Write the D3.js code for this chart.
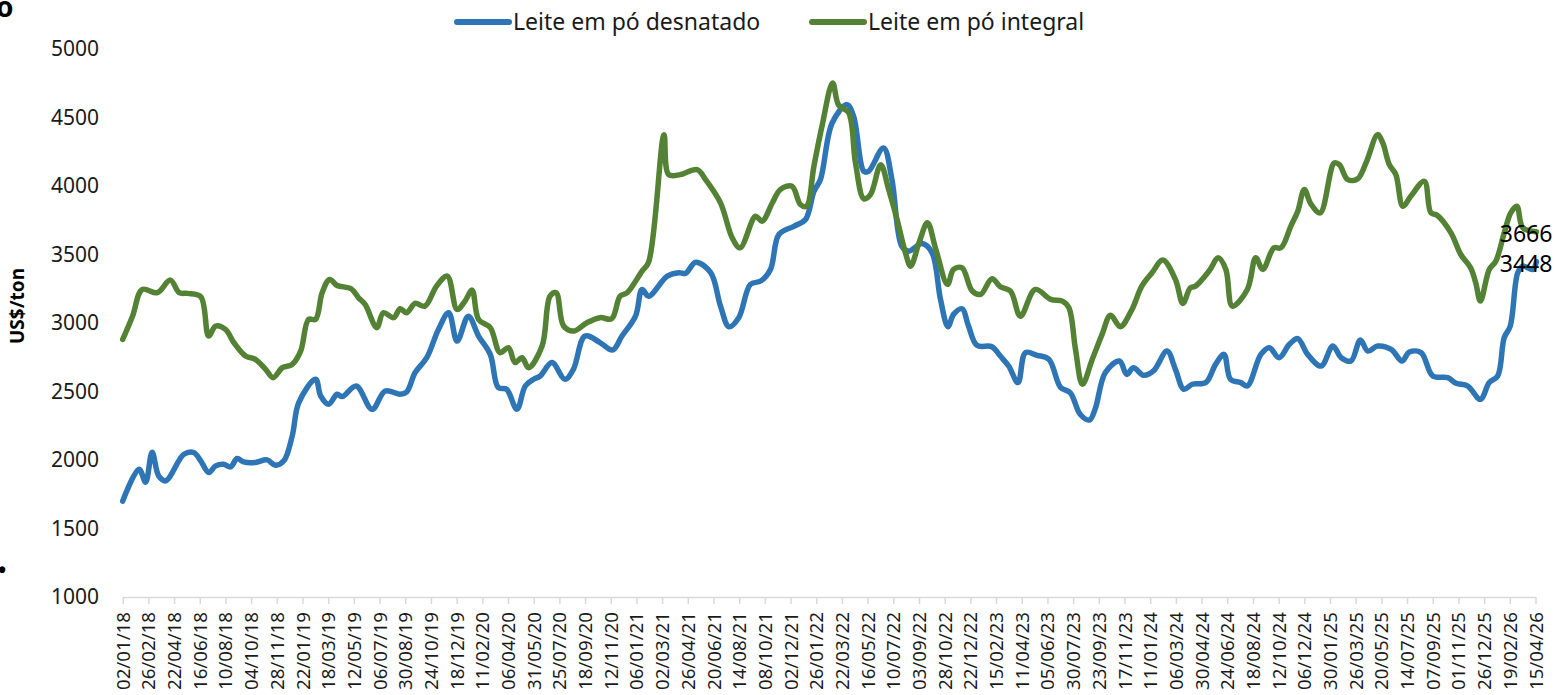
<!DOCTYPE html>
<html>
<head>
<meta charset="utf-8">
<script src="https://cdn.jsdelivr.net/npm/d3@7"></script>
<style>
  body { margin: 0; background: #fff; }
  svg { display: block; font-family: "Noto Sans", "Open Sans", sans-serif; }
  .axis-x .domain, .axis-x line { stroke: #d9d9d9; stroke-width: 1.5; }
</style>
</head>
<body>
<div id="chart"></div>
<script>
// ---- data ----
var seriesNames = ["Leite em pó desnatado", "Leite em pó integral"];
var seriesColors = ["#2e75b6", "#548235"];

var tickLabels = ["02/01/18","26/02/18","22/04/18","16/06/18","10/08/18","04/10/18","28/11/18",
  "22/01/19","18/03/19","12/05/19","06/07/19","30/08/19","24/10/19","18/12/19",
  "11/02/20","06/04/20","31/05/20","25/07/20","18/09/20","12/11/20",
  "06/01/21","02/03/21","26/04/21","20/06/21","14/08/21","08/10/21","02/12/21",
  "26/01/22","22/03/22","16/05/22","10/07/22","03/09/22","28/10/22","22/12/22",
  "15/02/23","11/04/23","05/06/23","30/07/23","23/09/23","17/11/23",
  "11/01/24","06/03/24","30/04/24","24/06/24","18/08/24","12/10/24","06/12/24",
  "30/01/25","26/03/25","20/05/25","14/07/25","07/09/25","01/11/25","26/12/25",
  "19/02/26","15/04/26"];

var yTicks = [1000,1500,2000,2500,3000,3500,4000,4500,5000];

var desnatadoDates = ["02/01/18","06/02/18","20/02/18","06/03/18","20/03/18","04/04/18","13/05/18","03/06/18",
  "18/06/18","05/07/18","20/07/18","06/08/18","21/08/18","04/09/18","18/09/18","13/10/18","07/11/18",
  "25/11/18","13/12/18","31/12/18","14/01/19","19/02/19","02/03/19","19/03/19","06/04/19","17/04/19",
  "17/05/19","20/06/19","18/07/19","19/08/19","02/09/19","20/09/19","15/10/19","09/11/19","01/12/19",
  "19/12/19","12/01/20","03/02/20","28/02/20","16/03/20","03/04/20","25/04/20","13/05/20","31/05/20",
  "14/06/20","09/07/20","06/08/20","24/08/20","18/09/20","20/10/20","16/11/20","06/12/20","04/01/21",
  "18/01/21","01/02/21","13/03/21","07/04/21","21/04/21","13/05/21","14/06/21","05/07/21","23/07/21",
  "13/08/21","07/09/21","29/09/21","20/10/21","07/11/21","09/12/21","03/01/22","21/01/22","04/02/22",
  "01/03/22","02/04/22","16/04/22","08/05/22","18/05/22","19/06/22","07/07/22","28/07/22","12/08/22",
  "10/09/22","01/10/22","19/10/22","04/11/22","16/11/22","04/12/22","18/12/22","05/01/23","06/02/23",
  "24/02/23","14/03/23","03/04/23","19/04/23","14/05/23","08/06/23","03/07/23","24/07/23","14/08/23",
  "03/09/23","15/09/23","07/10/23","06/11/23","22/11/23","06/12/23","28/12/23","18/01/24","16/02/24",
  "05/03/24","23/03/24","10/04/24","09/05/24","30/05/24","17/06/24","01/07/24","23/07/24","06/08/24",
  "04/09/24","22/09/24","13/10/24","04/11/24","22/11/24","13/12/24","11/01/25","05/02/25","23/02/25",
  "16/03/25","05/04/25","21/04/25","12/05/25","10/06/25","03/07/25","19/07/25","13/08/25","07/09/25",
  "09/10/25","27/10/25","21/11/25","18/12/25","06/01/26","24/01/26","07/02/26","20/02/26","08/03/26",
  "19/03/26","09/04/26","17/04/26"];
var desnatadoValues = [1700,1933,1838,2057,1884,1848,2042,2055,
  1994,1909,1957,1969,1950,2011,1986,1982,2001,
  1962,1994,2176,2419,2589,2467,2407,2480,2463,
  2540,2370,2504,2480,2497,2638,2747,2953,3075,
  2868,3050,2905,2771,2529,2516,2370,2540,2589,
  2613,2711,2589,2662,2905,2857,2803,2905,3050,
  3245,3196,3342,3367,3362,3444,3367,3123,2973,
  3039,3282,3306,3391,3646,3706,3755,3961,4047,
  4460,4594,4508,4107,4107,4278,4047,3561,3524,
  3580,3512,3172,2973,3063,3104,2978,2837,2827,
  2759,2686,2565,2784,2764,2735,2530,2490,2334,
  2292,2370,2638,2723,2625,2674,2618,2650,2795,
  2662,2516,2553,2565,2698,2771,2589,2565,2540,
  2771,2820,2747,2844,2886,2771,2686,2832,2747,
  2723,2876,2795,2832,2808,2723,2788,2784,2613,
  2601,2560,2540,2443,2565,2613,2893,2978,3367,
  3415,3391,3448];

var integralDates = ["02/01/18","23/01/18","13/02/18","17/03/18","14/04/18","03/05/18","21/05/18","18/06/18",
  "05/07/18","20/07/18","10/08/18","28/08/18","22/09/18","13/10/18","04/11/18","20/11/18","10/12/18",
  "31/12/18","18/01/19","04/02/19","19/02/19","05/03/19","21/03/19","06/04/19","06/05/19","22/05/19",
  "05/06/19","30/06/19","14/07/19","05/08/19","19/08/19","02/09/19","20/09/19","11/10/19","05/11/19",
  "28/11/19","19/12/19","05/01/20","20/01/20","03/02/20","28/02/20","20/03/20","07/04/20","21/04/20",
  "06/05/20","20/05/20","18/06/20","05/07/20","18/07/20","03/08/20","24/08/20","22/09/20","20/10/20",
  "14/11/20","02/12/20","17/12/20","18/01/21","01/02/21","06/03/21","16/03/21","10/04/21","16/05/21",
  "03/06/21","05/07/21","30/07/21","16/08/21","18/09/21","02/10/21","24/10/21","10/11/21","05/12/21",
  "23/12/21","05/01/22","21/01/22","08/02/22","02/03/22","15/03/22","05/04/22","20/04/22","08/05/22",
  "22/05/22","13/06/22","30/06/22","18/07/22","05/08/22","16/08/22","03/09/22","21/09/22","09/10/22",
  "03/11/22","16/11/22","04/12/22","26/12/22","13/01/23","06/02/23","24/02/23","18/03/23","08/04/23",
  "10/05/23","12/06/23","07/07/23","21/07/23","04/08/23","19/08/23","09/09/23","30/09/23","18/10/23",
  "08/11/23","03/12/23","24/12/23","15/01/24","07/02/24","05/03/24","21/03/24","06/04/24","17/04/24",
  "16/05/24","05/06/24","21/06/24","05/07/24","06/08/24","24/08/24","08/09/24","02/10/24","17/10/24",
  "07/11/24","22/11/24","06/12/24","20/12/24","09/01/25","08/02/25","19/02/25","09/03/25","30/03/25",
  "17/04/25","12/05/25","23/05/25","06/06/25","20/06/25","05/07/25","22/07/25","20/08/25","03/09/25",
  "17/09/25","16/10/25","06/11/25","27/11/25","08/12/25","18/12/25","06/01/26","20/01/26","07/02/26",
  "21/02/26","06/03/26","19/03/26","17/04/26"];
var integralValues = [2880,3050,3245,3221,3313,3221,3216,3192,
  2905,2978,2953,2857,2759,2735,2662,2601,2674,
  2698,2795,3026,3026,3221,3318,3274,3250,3184,
  3136,2966,3075,3039,3104,3075,3143,3123,3269,
  3342,3099,3160,3240,3026,2966,2784,2820,2711,
  2747,2674,2832,3196,3221,2978,2941,3002,3039,
  3031,3196,3221,3379,3444,4375,4083,4083,4120,
  4047,3877,3622,3549,3779,3743,3877,3974,3998,
  3865,3852,4144,4448,4752,4590,4537,4168,3906,
  3937,4156,3974,3755,3512,3415,3585,3731,3537,
  3282,3391,3403,3233,3209,3323,3265,3233,3050,
  3245,3172,3160,3111,2808,2553,2735,2917,3056,
  2973,3099,3269,3367,3459,3318,3143,3257,3269,
  3379,3476,3391,3123,3245,3476,3391,3549,3549,
  3706,3816,3974,3870,3804,4168,4156,4047,4052,
  4168,4375,4314,4156,4083,3852,3925,4034,3804,
  3785,3658,3500,3403,3294,3160,3391,3451,3658,
  3804,3852,3695,3666];

// ---- setup ----
var W = 1557, H = 695;
var parse = d3.timeParse("%d/%m/%y");

var series = [
  {name: seriesNames[0], color: seriesColors[0],
   points: desnatadoDates.map(function(d, i){ return {date: parse(d), value: desnatadoValues[i]}; })},
  {name: seriesNames[1], color: seriesColors[1],
   points: integralDates.map(function(d, i){ return {date: parse(d), value: integralValues[i]}; })}
];

var svg = d3.select("#chart").append("svg")
  .attr("width", W)
  .attr("height", H);

var x = d3.scaleTime()
  .domain([parse(tickLabels[0]), parse(tickLabels[tickLabels.length - 1])])
  .range([122.7, 1535.5]);

var y = d3.scaleLinear()
  .domain([1000, 5000])
  .range([597, 49]);

// y axis: labels only, no line
var gy = svg.append("g")
  .attr("transform", "translate(99,0)")
  .call(d3.axisLeft(y).tickValues(yTicks).tickFormat(d3.format("d")).tickSize(0).tickPadding(0));
gy.select(".domain").remove();
gy.selectAll("text")
  .attr("fill", "#1a1a1a")
  .style("font-size", "21px")
  .style("font-family", "'Noto Sans', sans-serif");

// x axis: light line, small ticks, rotated labels
var gx = svg.append("g")
  .attr("class", "axis-x")
  .attr("transform", "translate(0,597)")
  .call(d3.axisBottom(x)
    .tickValues(tickLabels.map(parse))
    .tickFormat(d3.timeFormat("%d/%m/%y"))
    .tickSizeInner(7)
    .tickSizeOuter(0));
gx.selectAll("text")
  .attr("fill", "#1a1a1a")
  .style("font-size", "18.7px")
  .style("font-family", "'Noto Sans', sans-serif")
  .attr("text-anchor", "end")
  .attr("x", -15)
  .attr("y", 0)
  .attr("dy", "0.35em")
  .attr("transform", "rotate(-90)");

// y axis title
svg.append("text")
  .attr("transform", "translate(24,306) rotate(-90)")
  .attr("text-anchor", "middle")
  .style("font-size", "19px")
  .style("font-weight", "bold")
  .attr("fill", "#000")
  .text("US$/ton");

// lines
var line = d3.line()
  .x(function(d){ return x(d.date); })
  .y(function(d){ return y(d.value); })
  .curve(d3.curveCatmullRom.alpha(0.5));

svg.selectAll("path.series")
  .data(series)
  .enter()
  .append("path")
  .attr("class", "series")
  .attr("fill", "none")
  .attr("stroke", function(d){ return d.color; })
  .attr("stroke-width", 5.5)
  .attr("stroke-linejoin", "round")
  .attr("stroke-linecap", "round")
  .attr("d", function(d){ return line(d.points); });

// last-value labels
svg.selectAll("text.last")
  .data(series)
  .enter()
  .append("text")
  .attr("class", "last")
  .attr("text-anchor", "end")
  .attr("dy", "0.35em")
  .attr("x", function(d){ return x(d.points[d.points.length - 1].date) + 16; })
  .attr("y", function(d){ return y(d.points[d.points.length - 1].value) + 2; })
  .style("font-size", "23px")
  .attr("fill", "#000")
  .text(function(d){ return d.points[d.points.length - 1].value; });

// legend
var legendX = [455, 810];
var lg = svg.selectAll("g.legend")
  .data(series)
  .enter()
  .append("g")
  .attr("class", "legend")
  .attr("transform", function(d, i){ return "translate(" + legendX[i] + ",22)"; });
lg.append("line")
  .attr("x1", 2).attr("x2", 54)
  .attr("y1", 0).attr("y2", 0)
  .attr("stroke", function(d){ return d.color; })
  .attr("stroke-width", 6)
  .attr("stroke-linecap", "round");
lg.append("text")
  .attr("x", 58)
  .attr("dy", "0.35em")
  .style("font-size", "23px")
  .attr("fill", "#1a1a1a")
  .text(function(d){ return d.name; });

// cropped bits of the surrounding slide
svg.append("text")
  .attr("x", -4).attr("y", 17)
  .style("font-size", "28px").style("font-weight", "bold")
  .text("o");
svg.append("text")
  .attr("x", -2).attr("y", 578)
  .style("font-size", "22px").style("font-weight", "bold")
  .text("•");
</script>
</body>
</html>
